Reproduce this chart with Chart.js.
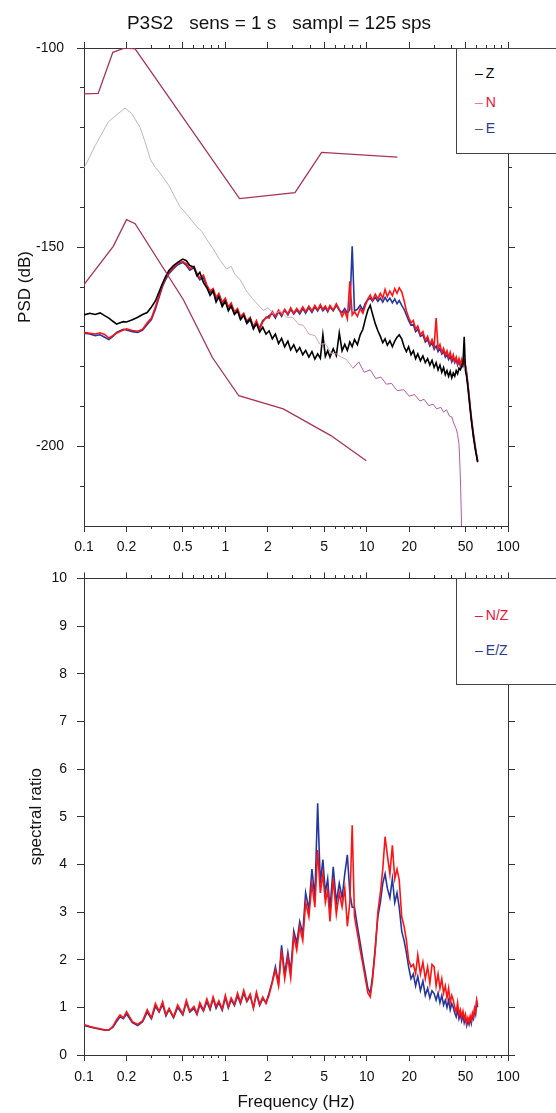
<!DOCTYPE html>
<html>
<head>
<meta charset="utf-8">
<title>P3S2 spectra</title>
<script src="https://cdn.jsdelivr.net/npm/chart.js@4.4.1/dist/chart.umd.min.js"></script>
<style>
  body { margin: 0; width: 556px; height: 1113px; overflow: hidden; background: #fff; position: relative;
         font-family: "Liberation Sans", Arial, Helvetica, sans-serif; }
  canvas { position: absolute; left: 0; }
  #psdChart { top: 0; }
  #ratioChart { top: 560px; }
  .title { position: absolute; top: 12px; left: 0; width: 558px; text-align: center; font-size: 19px; white-space: pre; color: #111; }
  .legend { position: absolute; left: 456px; width: 140px; background: #fff; border: 1px solid #444; }
  .item { position: absolute; left: 18px; font-size: 14px; line-height: 16px; white-space: pre; }
  .item b { font-weight: normal; margin-right: 3px; }
</style>
</head>
<body>
<canvas id="psdChart" width="556" height="560"></canvas>
<canvas id="ratioChart" width="556" height="553"></canvas>
<div class="title">P3S2   sens = 1 s   sampl = 125 sps</div>
<div class="legend" style="top:48px;height:104px">
  <div class="item" style="top:16px"><b style="color:#000">–</b><span style="color:#000">Z</span></div>
  <div class="item" style="top:45px"><b style="color:#ff6f8e">–</b><span style="color:#ee1133">N</span></div>
  <div class="item" style="top:71px"><b style="color:#555">–</b><span style="color:#2b3a8f">E</span></div>
</div>
<div class="legend" style="top:578px;height:105px">
  <div class="item" style="top:28px"><b style="color:#ee1133">–</b><span style="color:#ee1133">N/Z</span></div>
  <div class="item" style="top:63px"><b style="color:#2b3a8f">–</b><span style="color:#2b3a8f">E/Z</span></div>
</div>
<script>
'use strict';

// tick values
var majorFreq = [0.1, 0.2, 0.5, 1, 2, 5, 10, 20, 50, 100];
var minorFreq = [0.3, 0.4, 0.6, 0.7, 0.8, 0.9, 3, 4, 6, 7, 8, 9, 30, 40, 60, 70, 80, 90];
var psdMajor = [-100, -150, -200];
var psdMinor = [-110, -120, -130, -140, -160, -170, -180, -190, -210];
var ratioTicks = [0, 1, 2, 3, 4, 5, 6, 7, 8, 9, 10];

// noise models
var nhnmFreq = [0.1, 0.126, 0.16, 0.195, 0.23, 1.26, 3.11, 4.8, 16.5];
var nhnmPsd = [-111.5, -111.4, -101.1, -100.0, -100.2, -137.8, -136.3, -126.2, -127.4];
var nlnmFreq = [0.1, 0.161, 0.2, 0.23, 0.505, 0.81, 1.245, 2.57, 5.58, 9.94];
var nlnmPsd = [-159.4, -149.8, -143.1, -144.1, -163.2, -177.7, -187.3, -190.6, -197.3, -203.6];

// grey / magenta trace
var freqM = [0.1, 0.12, 0.149, 0.17, 0.195, 0.217, 0.249, 0.27, 0.296, 0.32,
  0.345, 0.4, 0.44, 0.477, 0.55, 0.626, 0.68, 0.74, 0.82, 0.91,
  1.02, 1.1, 1.17, 1.27, 1.41, 1.58, 1.72, 1.86, 2.0, 2.2,
  2.45, 2.72, 3.0, 3.3, 3.56, 3.9, 4.3, 4.67, 5.1, 5.6,
  6.1, 6.6, 7.2, 8.0, 8.8, 9.6, 10.6, 11.6, 12.6, 13.8,
  15.0, 16.4, 18.3, 20.0, 21.8, 23.8, 25.5, 27.5, 29.5, 31.3,
  33.5, 35, 36.7, 38.5, 40, 41.5, 43, 44, 45, 45.6,
  46.2, 46.8, 47.3];
var psdM = [-130.2, -124.5, -118.5, -116.8, -115.1, -116.4, -119.9, -123.5, -128.1, -130.0,
  -131.4, -134.6, -137.5, -139.8, -142.3, -144.8, -146.0, -148.1, -150.4, -153.1,
  -155.5, -154.8, -156.9, -158.1, -161.0, -163.2, -164.6, -165.9, -165.2, -166.8,
  -166.0, -167.6, -167.6, -169.4, -169.6, -171.8, -172.2, -174.4, -174.2, -176.6,
  -176.8, -177.6, -178.2, -180.4, -178.8, -181.4, -180.8, -183.0, -182.6, -184.4,
  -184.2, -186.0, -185.8, -187.4, -187.0, -188.6, -188.2, -189.8, -189.4, -190.6,
  -190.2, -191.4, -190.8, -192.4, -192.6, -194.4, -195.6, -197.0, -199.5, -204.0,
  -210.0, -218.0, -226.0];

// three components and their ratios share one frequency list
var freq = [0.1, 0.11, 0.12, 0.13, 0.14, 0.15, 0.16, 0.17, 0.18, 0.19,
  0.2, 0.22, 0.24, 0.26, 0.28, 0.3, 0.32, 0.34, 0.36, 0.38,
  0.4, 0.43, 0.46, 0.5, 0.53, 0.56, 0.6, 0.63, 0.66, 0.7,
  0.74, 0.78, 0.82, 0.86, 0.9, 0.95, 1.0, 1.05, 1.1, 1.16,
  1.22, 1.28, 1.35, 1.42, 1.5, 1.58, 1.66, 1.75, 1.84, 1.94,
  2.04, 2.15, 2.26, 2.38, 2.5, 2.63, 2.77, 2.9, 3.05, 3.2,
  3.36, 3.53, 3.7, 3.9, 4.1, 4.3, 4.5, 4.7, 4.9, 5.1,
  5.3, 5.5, 5.8, 6.1, 6.4, 6.7, 7.0, 7.3, 7.6, 7.9,
  8.2, 8.6, 9.0, 9.4, 9.8, 10.2, 10.6, 11.0, 11.5, 12.0,
  12.5, 13.0, 13.5, 14.0, 14.6, 15.2, 15.8, 16.4, 17.0, 17.7,
  18.4, 19.1, 19.8, 20.6, 21.4, 22.2, 23.0, 24, 25, 26,
  27, 28, 29, 30, 31, 32, 33, 34, 35, 36,
  37, 38, 39, 40, 41, 42, 43, 44, 45, 46,
  47, 48, 49, 50, 51, 52, 53, 54, 55, 56,
  57, 58, 59, 60, 61];

var psdZ = [-167.0, -166.6, -166.9, -166.5, -167.2, -167.8, -168.6, -169.3, -169.0, -168.7,
  -168.8, -168.2, -167.6, -166.9, -166.4, -165.0, -163.5, -161.2, -159.0, -157.2,
  -155.8, -154.6, -153.8, -153.0, -153.4, -154.6, -155.0, -157.2, -156.3, -158.9,
  -160.2, -162.1, -161.0, -163.8, -162.5, -164.9, -163.6, -166.0, -164.8, -166.9,
  -166.0, -168.2, -167.1, -169.0, -168.0, -170.4, -169.2, -171.3, -170.1, -171.8,
  -171.0, -173.0, -171.8, -174.2, -172.9, -175.0, -173.6, -175.8, -174.5, -176.3,
  -175.2, -177.0, -175.9, -177.6, -176.2, -178.1, -176.8, -177.9, -172.0, -177.4,
  -176.0, -177.6, -175.5, -177.2, -171.5, -176.0, -174.4, -175.9, -173.8, -175.0,
  -173.2, -174.5, -172.0, -170.6, -168.0, -165.8, -164.6, -166.8, -169.2, -171.0,
  -172.4, -174.0, -173.0, -174.6, -173.5, -175.0, -173.6, -172.6, -172.0, -173.0,
  -175.0, -176.2, -175.0, -177.0, -176.0, -178.0, -176.8, -178.5, -177.3, -179.0,
  -178.0, -179.6, -178.4, -180.2, -179.0, -180.8, -179.6, -181.4, -180.2, -182.0,
  -181.0, -182.4, -181.2, -182.8, -181.6, -182.4, -181.0, -181.8, -180.4, -180.8,
  -180.0, -179.2, -172.5, -181.0, -182.6, -185.2, -188.0, -190.8, -193.4, -195.6,
  -197.8, -199.6, -201.2, -202.6, -204.0];

var psdN = [-171.4, -171.6, -171.8, -171.5, -171.9, -172.8, -172.2, -171.6, -171.2, -170.8,
  -170.5, -170.9, -171.1, -170.6, -169.0, -167.8, -165.0, -162.0, -159.4, -157.6,
  -156.2, -155.0, -154.0, -153.6, -154.2, -155.4, -154.8, -156.6, -157.8, -157.0,
  -159.5, -161.0, -160.4, -162.6, -161.6, -163.8, -162.8, -165.0, -164.0, -166.2,
  -165.4, -167.4, -166.6, -168.6, -167.6, -170.0, -168.4, -170.6, -168.8, -167.6,
  -167.8, -166.2, -167.4, -165.8, -167.0, -165.6, -166.8, -165.2, -166.6, -165.4,
  -166.4, -165.0, -166.2, -164.8, -166.0, -164.6, -165.8, -164.4, -165.6, -164.8,
  -166.0, -164.6, -165.8, -164.2, -165.6, -167.4, -166.0, -168.0, -158.6, -167.0,
  -166.2, -167.4, -165.4, -166.6, -164.6, -163.0, -162.0, -163.4, -161.8, -163.0,
  -161.6, -162.8, -160.6, -162.4, -161.0, -162.2, -160.4, -161.6, -160.2, -161.2,
  -163.4, -166.0, -167.6, -169.0, -168.4, -170.6, -169.8, -172.0, -171.2, -173.4,
  -172.4, -174.4, -173.2, -175.0, -167.8, -175.4, -174.4, -176.4, -175.4, -177.0,
  -176.0, -177.6, -176.4, -178.2, -177.0, -178.6, -177.6, -179.2, -178.0, -179.4,
  -178.2, -179.6, -178.6, -180.0, -182.0, -184.6, -187.4, -190.4, -193.0, -195.2,
  -197.4, -199.2, -201.0, -202.4, -203.8];

var psdE = [-171.6, -171.8, -172.2, -172.0, -172.6, -173.2, -172.4, -171.4, -171.0, -170.6,
  -170.8, -171.2, -171.4, -170.8, -169.4, -168.2, -165.6, -162.6, -159.8, -158.0,
  -156.6, -155.4, -154.4, -153.8, -154.6, -155.8, -155.2, -157.0, -158.2, -157.6,
  -160.0, -161.4, -160.8, -163.0, -162.0, -164.2, -163.2, -165.4, -164.6, -166.6,
  -165.8, -168.0, -167.0, -169.2, -168.2, -170.6, -169.0, -170.2, -168.4, -167.8,
  -167.2, -166.6, -167.8, -166.2, -167.4, -165.8, -167.0, -165.6, -166.8, -165.8,
  -166.8, -165.4, -166.6, -165.2, -166.4, -165.0, -166.0, -164.8, -166.0, -165.2,
  -166.2, -165.0, -166.0, -164.6, -165.8, -166.4, -165.4, -166.6, -165.6, -149.8,
  -166.0, -165.6, -164.6, -165.8, -164.0, -163.2, -162.8, -163.6, -162.6, -163.6,
  -162.8, -163.8, -162.6, -163.6, -162.8, -164.0, -163.0, -164.2, -163.4, -164.6,
  -165.6, -167.0, -168.4, -169.6, -169.4, -171.2, -170.6, -172.4, -172.0, -173.8,
  -173.2, -174.8, -174.0, -175.6, -174.8, -176.2, -175.4, -176.8, -176.2, -177.6,
  -177.0, -178.2, -177.4, -178.8, -177.8, -179.0, -178.2, -179.6, -178.6, -179.8,
  -178.8, -179.8, -178.4, -179.6, -181.6, -184.2, -187.0, -190.0, -192.6, -195.0,
  -197.0, -198.8, -200.6, -202.2, -203.6];

var ratioNZ = [0.64, 0.60, 0.57, 0.55, 0.53, 0.52, 0.60, 0.74, 0.84, 0.78,
  0.91, 0.70, 0.64, 0.72, 0.95, 0.78, 1.08, 0.92, 1.12, 0.84,
  0.98, 0.80, 1.05, 0.86, 1.15, 0.92, 1.02, 0.87, 1.10, 0.94,
  1.18, 0.98, 1.22, 1.02, 1.14, 0.96, 1.25, 1.01, 1.20, 1.06,
  1.30, 1.10, 1.36, 1.14, 1.28, 0.98, 1.32, 1.06, 1.22, 1.08,
  1.26, 1.52, 1.78, 1.45, 2.20, 1.60, 2.05, 1.62, 2.50, 2.20,
  2.69, 2.40, 3.20, 2.90, 3.60, 3.10, 4.30, 3.40, 3.80, 3.20,
  3.46, 2.80, 3.70, 2.95, 3.40, 3.11, 3.50, 2.70, 3.20, 4.82,
  2.90, 2.55, 2.20, 1.90, 1.60, 1.30, 1.22, 1.57, 2.20, 3.00,
  3.40, 3.90, 4.58, 4.20, 3.80, 4.40, 3.70, 3.90, 3.67, 2.90,
  2.70, 2.41, 2.00, 1.85, 1.90, 1.71, 2.10, 1.70, 1.95, 1.60,
  1.85, 1.50, 1.90, 1.85, 1.45, 1.70, 1.40, 1.60, 1.30, 1.45,
  1.20, 1.40, 1.10, 1.25, 1.15, 1.00, 0.90, 1.10, 0.85, 0.95,
  0.80, 0.92, 0.75, 0.85, 0.66, 0.78, 0.70, 0.82, 0.72, 0.88,
  0.80, 0.98, 0.90, 1.15, 1.05];

var ratioEZ = [0.62, 0.59, 0.56, 0.54, 0.52, 0.53, 0.58, 0.70, 0.80, 0.76,
  0.86, 0.68, 0.62, 0.70, 0.90, 0.76, 1.02, 0.90, 1.06, 0.82,
  0.95, 0.78, 1.00, 0.84, 1.10, 0.90, 0.98, 0.85, 1.05, 0.92,
  1.12, 0.95, 1.18, 0.98, 1.10, 0.94, 1.20, 0.99, 1.16, 1.04,
  1.24, 1.08, 1.30, 1.12, 1.24, 1.00, 1.28, 1.04, 1.18, 1.10,
  1.30, 1.55, 1.85, 1.50, 2.30, 1.70, 2.15, 1.75, 2.60, 2.35,
  2.80, 2.55, 3.40, 3.05, 3.90, 3.30, 5.28, 3.60, 4.10, 3.40,
  3.70, 3.05, 3.95, 3.20, 3.60, 3.30, 3.80, 4.20, 3.40, 3.10,
  3.10, 2.70, 2.35, 2.00, 1.70, 1.40, 1.30, 1.65, 2.25, 2.90,
  3.20, 3.60, 3.80, 3.50, 3.30, 3.70, 3.20, 3.40, 3.10, 2.60,
  2.40, 2.15, 1.85, 1.60, 1.70, 1.45, 1.65, 1.35, 1.55, 1.25,
  1.40, 1.20, 1.35, 1.29, 1.15, 1.30, 1.10, 1.25, 1.05, 1.15,
  1.00, 1.15, 0.95, 1.08, 1.00, 0.88, 0.80, 0.96, 0.76, 0.86,
  0.72, 0.84, 0.68, 0.78, 0.62, 0.72, 0.64, 0.76, 0.66, 0.82,
  0.76, 0.95, 0.86, 1.12, 1.00];

Chart.defaults.font.family = '"Liberation Sans", Arial, Helvetica, sans-serif';
Chart.defaults.color = '#111';

var axisColor = '#333';

function setTicks(list) {
  return function (scale) {
    scale.ticks = list.map(function (v) { return { value: v }; });
  };
}

function keepSize(prop, size) {
  return function (scale) { scale[prop] = size; };
}

function plainLabel(v) {
  return String(v);
}

function freqAxis(pos, size, labels, pad) {
  return {
    type: 'logarithmic', position: pos, min: 0.1, max: 100,
    afterBuildTicks: setTicks(majorFreq),
    afterFit: keepSize('height', size),
    border: { color: axisColor },
    grid: { drawOnChartArea: false, tickLength: 6, color: axisColor },
    ticks: { display: labels, autoSkip: false, maxRotation: 0, padding: pad, font: { size: 14 }, callback: plainLabel }
  };
}

function valueAxis(pos, size, lo, hi, list, labels, pad) {
  return {
    type: 'linear', position: pos, min: lo, max: hi,
    afterBuildTicks: setTicks(list),
    afterFit: keepSize('width', size),
    border: { color: axisColor },
    grid: { drawOnChartArea: false, tickLength: 7, color: axisColor },
    ticks: { display: labels, padding: pad, font: { size: 14 }, callback: plainLabel }
  };
}

// short ticks sitting on the frame, they take no room in the layout
function minorAxis(axis, type, where, lo, hi, list, len) {
  return {
    axis: axis, type: type, position: where, min: lo, max: hi,
    afterBuildTicks: setTicks(list),
    border: { display: false },
    grid: { drawOnChartArea: false, tickLength: len, color: axisColor },
    ticks: { display: false }
  };
}

function pts(xs, ys) {
  return xs.map(function (x, i) { return { x: x, y: ys[i] }; });
}

function series(label, xs, ys, color, width) {
  return {
    label: label, data: pts(xs, ys), borderColor: color, borderWidth: width,
    pointRadius: 0, tension: 0, fill: false, xAxisID: 'x', yAxisID: 'y'
  };
}

var magenta = series('M', freqM, psdM, '#c4b3b8', 1);
magenta.segment = {
  borderColor: function (ctx) {
    var f = ctx.p0.parsed.x;
    if (f < 1.6) return '#c4b3b8';
    if (f < 8) return '#d9a0c2';
    return '#b25aa7';
  }
};

// PSD panel
var psdScales = {
  x: freqAxis('bottom', 34, true, 7),
  y: valueAxis('left', 84, -220, -100, psdMajor, true, 13),
  xTop: freqAxis('top', 48, false, 0),
  yRight: valueAxis('right', 48, -220, -100, psdMajor, false, 0),
  xMinB: minorAxis('x', 'logarithmic', { y: -220 }, 0.1, 100, minorFreq, 3),
  xMinT: minorAxis('x', 'logarithmic', { y: -99.25 }, 0.1, 100, minorFreq, 3),
  yMinL: minorAxis('y', 'linear', { x: 0.1 }, -220, -100, psdMinor, 4),
  yMinR: minorAxis('y', 'linear', { x: 106.7 }, -220, -100, psdMinor, 4)
};
psdScales.y.title = { display: true, text: 'PSD (dB)', font: { size: 17 }, padding: { top: 15, bottom: 0 } };

new Chart(document.getElementById('psdChart'), {
  type: 'line',
  data: {
    datasets: [
      series('NHNM', nhnmFreq, nhnmPsd, '#a8325a', 1.3),
      series('NLNM', nlnmFreq, nlnmPsd, '#a8325a', 1.3),
      magenta,
      series('Z', freq, psdZ, '#000000', 1.6),
      series('N', freq, psdN, '#ff1414', 1.6),
      series('E', freq, psdE, '#2436a0', 1.6)
    ]
  },
  options: {
    responsive: false, animation: false, devicePixelRatio: 1,
    layout: { padding: 0 },
    plugins: { legend: { display: false }, tooltip: { enabled: false } },
    scales: psdScales
  }
});

// spectral ratio panel
var ratioScales = {
  x: freqAxis('bottom', 58, true, 8),
  y: valueAxis('left', 84, 0, 10, ratioTicks, true, 10),
  xTop: freqAxis('top', 18, false, 0),
  yRight: valueAxis('right', 48, 0, 10, ratioTicks, false, 0),
  xMinB: minorAxis('x', 'logarithmic', { y: 0 }, 0.1, 100, minorFreq, 3),
  xMinT: minorAxis('x', 'logarithmic', { y: 10.063 }, 0.1, 100, minorFreq, 3)
};
ratioScales.x.title = { display: true, text: 'Frequency (Hz)', font: { size: 17 }, padding: { top: 0, bottom: 0 } };
ratioScales.y.title = { display: true, text: 'spectral ratio', font: { size: 17 }, padding: { top: 26, bottom: 0 } };

new Chart(document.getElementById('ratioChart'), {
  type: 'line',
  data: {
    datasets: [
      series('N/Z', freq, ratioNZ, '#ff1414', 1.6),
      series('E/Z', freq, ratioEZ, '#2436a0', 1.6)
    ]
  },
  options: {
    responsive: false, animation: false, devicePixelRatio: 1,
    layout: { padding: 0 },
    plugins: { legend: { display: false }, tooltip: { enabled: false } },
    scales: ratioScales
  }
});
</script>
</body>
</html>
